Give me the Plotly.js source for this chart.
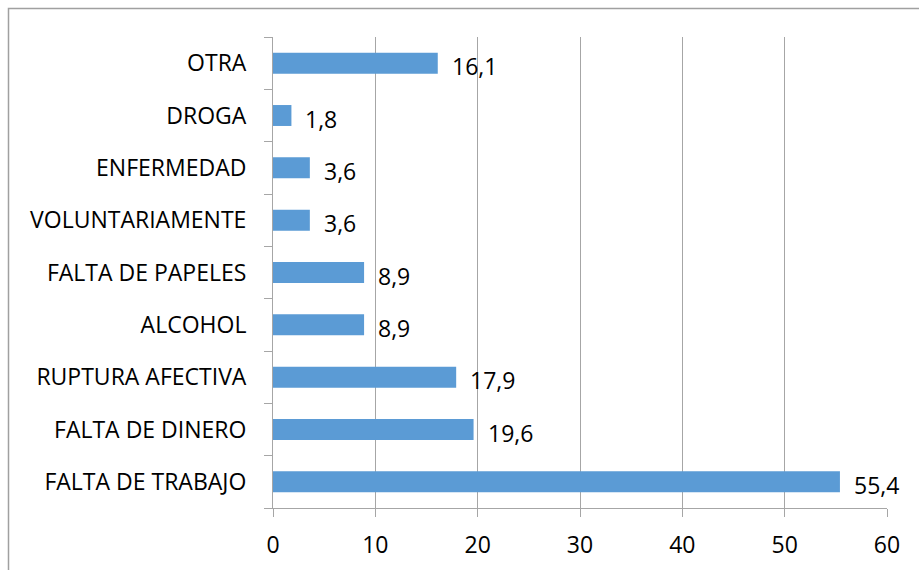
<!DOCTYPE html>
<html>
<head>
<meta charset="utf-8">
<script src="https://cdn.plot.ly/plotly-3.0.1.min.js"></script>
<style>html,body{margin:0;padding:0;background:#fff;}#chart{width:919px;height:570px;}</style>
</head>
<body>
<div id="chart"></div>
<script>
const categories = ["FALTA DE TRABAJO","FALTA DE DINERO","RUPTURA AFECTIVA","ALCOHOL","FALTA DE PAPELES","VOLUNTARIAMENTE","ENFERMEDAD","DROGA","OTRA"];
const values = [55.4, 19.6, 17.9, 8.9, 8.9, 3.6, 3.6, 1.8, 16.1];
const xTicks = [0,10,20,30,40,50,60];

const FONT = "'Open Sans', sans-serif";
const FS = 23;
const gray = "#a6a6a6";

const trace = {
  type: "bar",
  orientation: "h",
  y: categories,
  x: values,
  marker: {color: "#5B9BD5"},
  hoverinfo: "x+y"
};

const annotations = values.map((v, i) => ({
  x: v, y: categories[i], xref: "x", yref: "y",
  text: v.toFixed(1).replace(".", ","),
  showarrow: false, xanchor: "left", yanchor: "middle",
  xshift: 12, yshift: -3,
  font: {family: FONT, size: FS, color: "#000"}
}));

const layout = {
  width: 919, height: 570,
  margin: {l: 273, r: 32, t: 37, b: 62, pad: 0},
  paper_bgcolor: "#fff", plot_bgcolor: "#fff",
  separators: ",.",
  showlegend: false,
  bargap: 0.6,
  font: {family: FONT, size: FS, color: "#000"},
  xaxis: {
    range: [0, 60], tickvals: xTicks, ticktext: xTicks.map(String),
    showgrid: true, gridcolor: gray, gridwidth: 1,
    zeroline: false, showline: true, linecolor: gray, linewidth: 1,
    ticks: "outside", ticklen: 8, tickcolor: gray,
    ticklabelstandoff: 8,
    tickfont: {family: FONT, size: FS, color: "#000"},
    fixedrange: true
  },
  yaxis: {
    type: "category", categoryorder: "array", categoryarray: categories,
    showgrid: false, zeroline: false, showline: true, linecolor: gray, linewidth: 1,
    ticks: "outside", ticklen: 8, tickcolor: gray, tickson: "boundaries",
    ticklabelstandoff: 21,
    tickfont: {family: FONT, size: FS, color: "#000"},
    fixedrange: true
  },
  annotations: annotations,
  shapes: [{
    type: "rect", xref: "paper", yref: "paper", layer: "below",
    x0: (8.5 - 273) / 614, x1: (930 - 273) / 614,
    y0: (508 - 8.5) / 471, y1: (508 - 590) / 471,
    line: {color: "#a0a0a0", width: 1.5}, fillcolor: "rgba(0,0,0,0)"
  }]
};

Plotly.newPlot("chart", [trace], layout, {displayModeBar: false, staticPlot: true});
</script>
</body>
</html>
